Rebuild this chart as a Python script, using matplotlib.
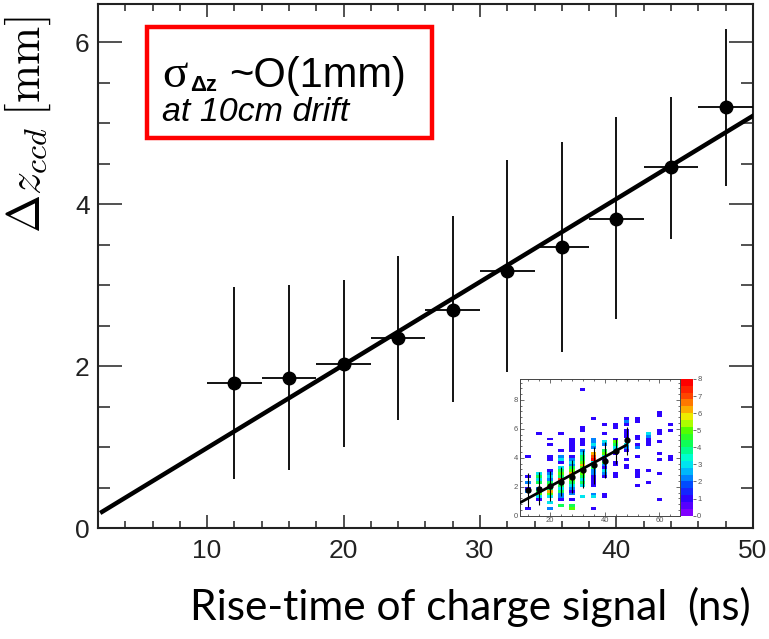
import numpy as np
import matplotlib
matplotlib.use('Agg')
import matplotlib.pyplot as plt
from matplotlib.patches import Rectangle
from matplotlib.colors import LinearSegmentedColormap
from matplotlib.ticker import MultipleLocator

plt.rcParams['mathtext.fontset'] = 'cm'
plt.rcParams['font.family'] = ['Liberation Sans', 'DejaVu Sans']

# main profile points
rise_time = [12, 16, 20, 24, 28, 32, 36, 40, 44, 48]
dz_mean = [1.79, 1.85, 2.03, 2.35, 2.69, 3.17, 3.47, 3.81, 4.46, 5.20]
dz_low = [0.60, 0.72, 1.00, 1.33, 1.56, 1.93, 2.17, 2.58, 3.57, 4.22]
dz_high = [2.98, 3.00, 3.06, 3.36, 3.85, 4.54, 4.77, 5.07, 5.32, 6.16]
bin_half = 2.0

# linear fit
fit_a = -0.036
fit_b = 0.1025
fit_range = [2.3, 50]

# inset 2D histogram: column centre -> (y, counts)
inset_cols = [12, 16, 20, 24, 28, 32, 36, 40, 44, 48, 52, 56, 60, 64]
inset_cells = [
    [(4.0, 1), (2.6, 1), (2.2, 2), (1.8, 1), (1.6, 2), (0.4, 1)],
    [(5.6, 1), (2.8, 3), (2.6, 4), (2.4, 3), (2.2, 4), (1.8, 2), (1.6, 4),
     (1.4, 5), (1.2, 3), (1.0, 1)],
    [(5.2, 1), (4.8, 1), (4.0, 1), (3.8, 1), (3.0, 1), (2.8, 2), (2.6, 3),
     (2.4, 2), (2.2, 4), (2.0, 5), (1.8, 4), (1.6, 6), (1.4, 5), (1.2, 3),
     (0.8, 3), (0.4, 2)],
    [(5.6, 1), (4.4, 1), (4.0, 2), (3.8, 3), (3.6, 1), (3.2, 3), (3.0, 4),
     (2.8, 5), (2.6, 4), (2.4, 7), (2.2, 5), (2.0, 4), (1.8, 3), (1.6, 4),
     (1.4, 2), (1.2, 2), (1.0, 1), (0.6, 4)],
    [(5.2, 1), (5.0, 1), (4.8, 1), (4.6, 1), (4.4, 1), (4.0, 1), (3.8, 2),
     (3.6, 3), (3.4, 2), (3.2, 4), (3.0, 5), (2.8, 6), (2.6, 4), (2.4, 5),
     (2.2, 4), (2.0, 3), (1.8, 2), (1.6, 1), (1.4, 2), (1.0, 1), (0.6, 4),
     (0.4, 5)],
    [(8.6, 1), (6.0, 1), (5.8, 1), (5.2, 1), (5.0, 1), (4.8, 1), (4.4, 2),
     (4.2, 3), (4.0, 4), (3.8, 4), (3.6, 5), (3.4, 6), (3.2, 5), (3.0, 4),
     (2.8, 5), (2.6, 4), (2.4, 3), (2.2, 4), (2.0, 3), (1.2, 3)],
    [(6.6, 1), (5.2, 2), (5.0, 2), (4.8, 3), (4.6, 2), (4.2, 6), (4.0, 7),
     (3.8, 8), (3.6, 3), (3.4, 3), (3.2, 4), (3.0, 2), (2.8, 2), (2.6, 1),
     (2.4, 1), (2.2, 1), (2.0, 1), (1.4, 2), (1.2, 3), (0.4, 1)],
    [(6.2, 1), (5.6, 1), (5.0, 3), (4.8, 2), (4.4, 4), (4.2, 5), (4.0, 3),
     (3.8, 1), (3.6, 4), (3.4, 2), (3.2, 1), (3.0, 3), (2.8, 2), (2.6, 1),
     (1.4, 1), (1.2, 1)],
    [(6.2, 1), (6.0, 1), (5.2, 1), (5.0, 5), (4.8, 4), (4.6, 3), (4.4, 3),
     (4.2, 1), (3.6, 1), (3.4, 1), (2.8, 1), (2.6, 1)],
    [(6.6, 1), (6.4, 2), (6.2, 1), (5.8, 1), (5.6, 1), (5.4, 1), (4.8, 3),
     (4.6, 2), (4.4, 1), (3.8, 1), (3.4, 1), (3.2, 1)],
    [(6.6, 1), (6.4, 1), (5.4, 1), (5.2, 1), (4.8, 1), (4.6, 2), (4.0, 1),
     (3.0, 1), (2.8, 1), (2.6, 1), (2.0, 1)],
    [(5.6, 3), (5.4, 2), (5.2, 1), (5.0, 1), (4.8, 1), (3.0, 1), (2.2, 1)],
    [(7.0, 1), (6.8, 1), (5.8, 1), (5.6, 1), (5.0, 1), (4.2, 1), (3.8, 1),
     (2.8, 1), (1.0, 1)],
    [(6.2, 1), (5.8, 1), (4.0, 1), (3.8, 1)],
]

fig = plt.figure(figsize=(7.69, 6.39), dpi=100)
ax = fig.add_axes([0.1274, 0.1737, 0.8516, 0.82])

yerr = [np.subtract(dz_mean, dz_low), np.subtract(dz_high, dz_mean)]
ax.errorbar(rise_time, dz_mean, xerr=bin_half, yerr=yerr, fmt='o',
            color='black', ms=9, elinewidth=1.3, capsize=0, zorder=3)
fx = np.array(fit_range)
ax.plot(fx, fit_a + fit_b * fx, color='black', lw=3.2, zorder=4)

ax.set_xlim(2, 50)
ax.set_ylim(0, 6.47)
ax.xaxis.set_major_locator(MultipleLocator(10))
ax.xaxis.set_minor_locator(MultipleLocator(2))
ax.yaxis.set_major_locator(MultipleLocator(2))
ax.yaxis.set_minor_locator(MultipleLocator(0.5))
ax.tick_params(which='both', direction='in', top=True, right=True,
               colors='#222222', labelsize=19, width=1.1)
ax.tick_params(axis='x', which='major', length=9.5, pad=8)
ax.tick_params(axis='x', which='minor', length=5)
ax.tick_params(axis='y', which='major', length=17, pad=6)
ax.tick_params(axis='y', which='minor', length=8.5)
for s in ax.spines.values():
    s.set_linewidth(1.5)
    s.set_color('#222222')

# red annotation box
ax.add_patch(Rectangle((0.0748, 0.744), 0.435, 0.212, transform=ax.transAxes,
                       facecolor='white', edgecolor='#ff0000', lw=3.2,
                       zorder=5))
ax.text(0.098, 0.842, 'σ', transform=ax.transAxes, fontsize=34,
        family='Liberation Serif', va='baseline', zorder=6)
ax.text(0.141, 0.834, 'Δz', transform=ax.transAxes, fontsize=16,
        weight='bold', va='baseline', zorder=6)
ax.text(0.200, 0.842, '~O(1mm)', transform=ax.transAxes, fontsize=30,
        va='baseline', zorder=6)
ax.text(0.098, 0.777, 'at 10cm drift', transform=ax.transAxes, fontsize=24.5,
        style='italic', va='baseline', zorder=6)

fig.text(0.036, 0.804, r'$\Delta z_{ccd}\;[\mathrm{mm}]$', rotation=90,
         fontsize=33, ha='center', va='center')
fig.text(0.247, 0.0297, 'Rise-time of charge signal', family='Lato',
         fontsize=30.5, va='baseline')
fig.text(0.893, 0.0297, '(ns)', family='Lato', fontsize=30, va='baseline')

# inset histogram
ins = fig.add_axes([0.6758, 0.193, 0.2085, 0.214])
cax = fig.add_axes([0.8852, 0.193, 0.016, 0.214])
xedges = np.arange(9, 68, 2)
yedges = np.arange(0, 9.61, 0.2)
H = np.zeros((len(yedges) - 1, len(xedges) - 1))
for xc, cells in zip(inset_cols, inset_cells):
    ix = int((xc - 9) // 2)
    for yv, c in cells:
        H[int(round(yv / 0.2)), ix] = c
H = np.ma.masked_equal(H, 0)

root_cmap = LinearSegmentedColormap.from_list('root', [
    (0.0, '#8000ff'), (0.1, '#3000ff'), (0.2, '#0040ff'), (0.3, '#00a8ff'),
    (0.4, '#00ffe8'), (0.5, '#00ff70'), (0.62, '#40ff00'), (0.72, '#e8ff00'),
    (0.8, '#ffa000'), (0.9, '#ff4000'), (1.0, '#ff0000')], N=20)
mesh = ins.pcolormesh(xedges, yedges, H, cmap=root_cmap, vmin=0, vmax=8)
ins.errorbar(rise_time, dz_mean, yerr=yerr, fmt='o', color='black', ms=3.5,
             elinewidth=0.8, capsize=0, zorder=3)
ix_fit = np.array([9, 48])
ins.plot(ix_fit, fit_a + fit_b * ix_fit, color='black', lw=2, zorder=4)
ins.set_xlim(9, 67.5)
ins.set_ylim(0, 9.45)
ins.xaxis.set_major_locator(MultipleLocator(20))
ins.xaxis.set_minor_locator(MultipleLocator(4))
ins.yaxis.set_major_locator(MultipleLocator(2))
ins.yaxis.set_minor_locator(MultipleLocator(0.4))
ins.tick_params(which='both', direction='in', top=True, right=True,
                labelsize=5.5, colors='#555555', width=0.6, pad=1)
ins.tick_params(which='major', length=3)
ins.tick_params(which='minor', length=1.5)
for s in ins.spines.values():
    s.set_linewidth(0.7)
    s.set_color('#444444')

cb = fig.colorbar(mesh, cax=cax, ticks=range(9))
cb.outline.set_visible(False)
cax.tick_params(labelsize=5.5, colors='#555555', length=2, width=0.6, pad=1)

fig.savefig('out.png', dpi=100)
